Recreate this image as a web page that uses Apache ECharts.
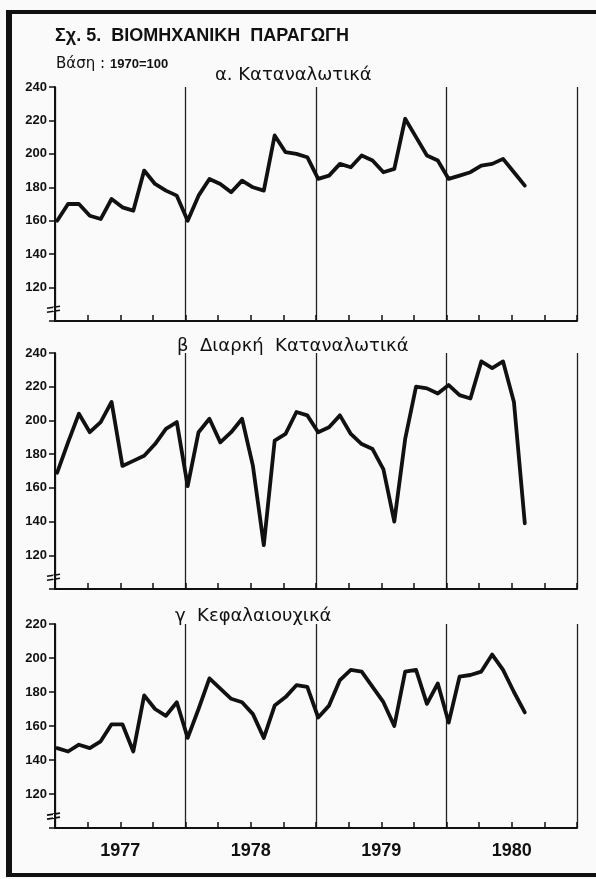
<!DOCTYPE html>
<html>
<head>
<meta charset="utf-8">
<script src="https://cdn.jsdelivr.net/npm/echarts@6/dist/echarts.min.js"></script>
<style>
  html, body { margin: 0; padding: 0; background: #fafafa; }
  #main { width: 596px; height: 879px; }
</style>
</head>
<body>
<div id="main"></div>
<script>
const chartDom = document.getElementById('main');
const myChart = echarts.init(chartDom);

// Monthly indices, Jan 1977 - Aug 1980 (1970 = 100)
const years = ['1977', '1978', '1979', '1980'];

const consumer = [
  160, 170, 170, 163, 161, 173, 168, 166, 190, 182, 178, 175,
  160, 175, 185, 182, 177, 184, 180, 178, 211, 201, 200, 198,
  185, 187, 194, 192, 199, 196, 189, 191, 221, 210, 199, 196,
  185, 187, 189, 193, 194, 197, 189, 181
];

const durable = [
  169, 187, 204, 193, 199, 211, 173, 176, 179, 186, 195, 199,
  161, 193, 201, 187, 193, 201, 173, 126, 188, 192, 205, 203,
  193, 196, 203, 192, 186, 183, 171, 140, 189, 220, 219, 216,
  221, 215, 213, 235, 231, 235, 211, 139
];

const capital = [
  147, 145, 149, 147, 151, 161, 161, 145, 178, 170, 166, 174,
  153, 170, 188, 182, 176, 174, 167, 153, 172, 177, 184, 183,
  165, 172, 187, 193, 192, 183, 174, 160, 192, 193, 173, 185,
  162, 189, 190, 192, 202, 193, 180, 168
];

const panelTitles = ['α. Καταναλωτικά', 'β  Διαρκή  Καταναλωτικά', 'γ  Κεφαλαιουχικά'];
const panelData = [consumer, durable, capital];
const yMax = [240, 240, 220];

// layout of the three stacked panels
const panels = [
  { top: 87, height: 234, titleLeft: 210, titleTop: 61 },
  { top: 353, height: 236, titleLeft: 172, titleTop: 332 },
  { top: 624, height: 204, titleLeft: 170, titleTop: 602 }
];

const ink = '#111';
const font = 'Liberation Sans, Arial, sans-serif';

const grid = panels.map(p => ({ left: 55, width: 522, top: p.top, height: p.height }));

const xAxis = [];
panels.forEach((p, i) => {
  // quarterly ticks + year labels
  xAxis.push({
    gridIndex: i,
    type: 'value',
    min: 0,
    max: 48,
    interval: 3,
    position: 'bottom',
    axisLine: { show: true, lineStyle: { color: ink, width: 2 } },
    axisTick: { show: true, inside: true, length: 6, lineStyle: { color: ink, width: 1.5 } },
    axisLabel: {
      show: i === 2,
      margin: 14,
      color: ink,
      fontFamily: font,
      fontWeight: 'bold',
      fontSize: 18,
      formatter: v => (v % 12 === 6 ? years[(v - 6) / 12] : '')
    },
    splitLine: { show: false }
  });
  // year dividers
  xAxis.push({
    gridIndex: i,
    type: 'value',
    min: 0,
    max: 48,
    interval: 12,
    position: 'top',
    axisLine: { show: false },
    axisTick: { show: false },
    axisLabel: { show: false },
    splitLine: { show: true, lineStyle: { color: '#222', width: 1.3 } }
  });
});

const yAxis = panels.map((p, i) => ({
  gridIndex: i,
  type: 'value',
  min: 100,
  max: yMax[i],
  interval: 20,
  axisLine: { show: true, lineStyle: { color: ink, width: 2 } },
  axisTick: { show: true, length: 6, lineStyle: { color: ink, width: 1.5 } },
  axisLabel: {
    margin: 8,
    color: ink,
    fontFamily: font,
    fontWeight: 'bold',
    fontSize: 13,
    formatter: v => (v === 100 ? '' : String(v))
  },
  splitLine: { show: false }
}));

const series = panelData.map((vals, i) => ({
  type: 'line',
  xAxisIndex: i * 2,
  yAxisIndex: i,
  data: vals.map((v, k) => [k + 0.2, v]),
  symbol: 'none',
  silent: true,
  lineStyle: { color: ink, width: 3.8, join: 'round', cap: 'round' }
}));

const title = [
  {
    text: 'Σχ. 5.  ΒΙΟΜΗΧΑΝΙΚΗ  ΠΑΡΑΓΩΓΗ',
    left: 50,
    top: 22,
    textStyle: { color: ink, fontFamily: font, fontWeight: 'bold', fontSize: 18 }
  },
  {
    text: '{a|Βάση :} {b|1970=100}',
    left: 51,
    top: 50,
    textStyle: {
      rich: {
        a: { color: ink, fontFamily: 'DejaVu Sans, sans-serif', fontWeight: 'normal', fontSize: 15 },
        b: { color: ink, fontFamily: font, fontWeight: 'bold', fontSize: 13 }
      }
    }
  }
].concat(panels.map((p, i) => ({
  text: panelTitles[i],
  left: p.titleLeft,
  top: p.titleTop,
  textStyle: { color: ink, fontFamily: 'DejaVu Sans, sans-serif', fontWeight: 'normal', fontSize: 18 }
})));

const option = {
  backgroundColor: '#fafafa',
  animation: false,
  title: title,
  grid: grid,
  xAxis: xAxis,
  yAxis: yAxis,
  series: series
};

myChart.setOption(option);

// page frame and axis-break marks
const extras = [
  { type: 'rect', shape: { x: 6, y: 10, width: 6, height: 867 }, style: { fill: ink } },
  { type: 'rect', shape: { x: 6, y: 10, width: 590, height: 4 }, style: { fill: ink } },
  { type: 'rect', shape: { x: 6, y: 873, width: 590, height: 4 }, style: { fill: ink } }
];
panels.forEach((p, i) => {
  const pt = myChart.convertToPixel({ gridIndex: i }, [0, 107]);
  [-2, 2].forEach(d => {
    extras.push({
      type: 'line',
      shape: { x1: pt[0] - 8, y1: pt[1] + d + 1, x2: pt[0] + 5, y2: pt[1] + d - 1 },
      style: { stroke: ink, lineWidth: 1.6 }
    });
  });
  extras.push({
    type: 'line',
    shape: { x1: pt[0] - 1, y1: pt[1] - 2, x2: pt[0] - 1, y2: pt[1] + 2 },
    style: { stroke: '#fafafa', lineWidth: 2 }
  });
});
myChart.setOption({ graphic: extras });

window.onresize = () => myChart.resize();
</script>
</body>
</html>
